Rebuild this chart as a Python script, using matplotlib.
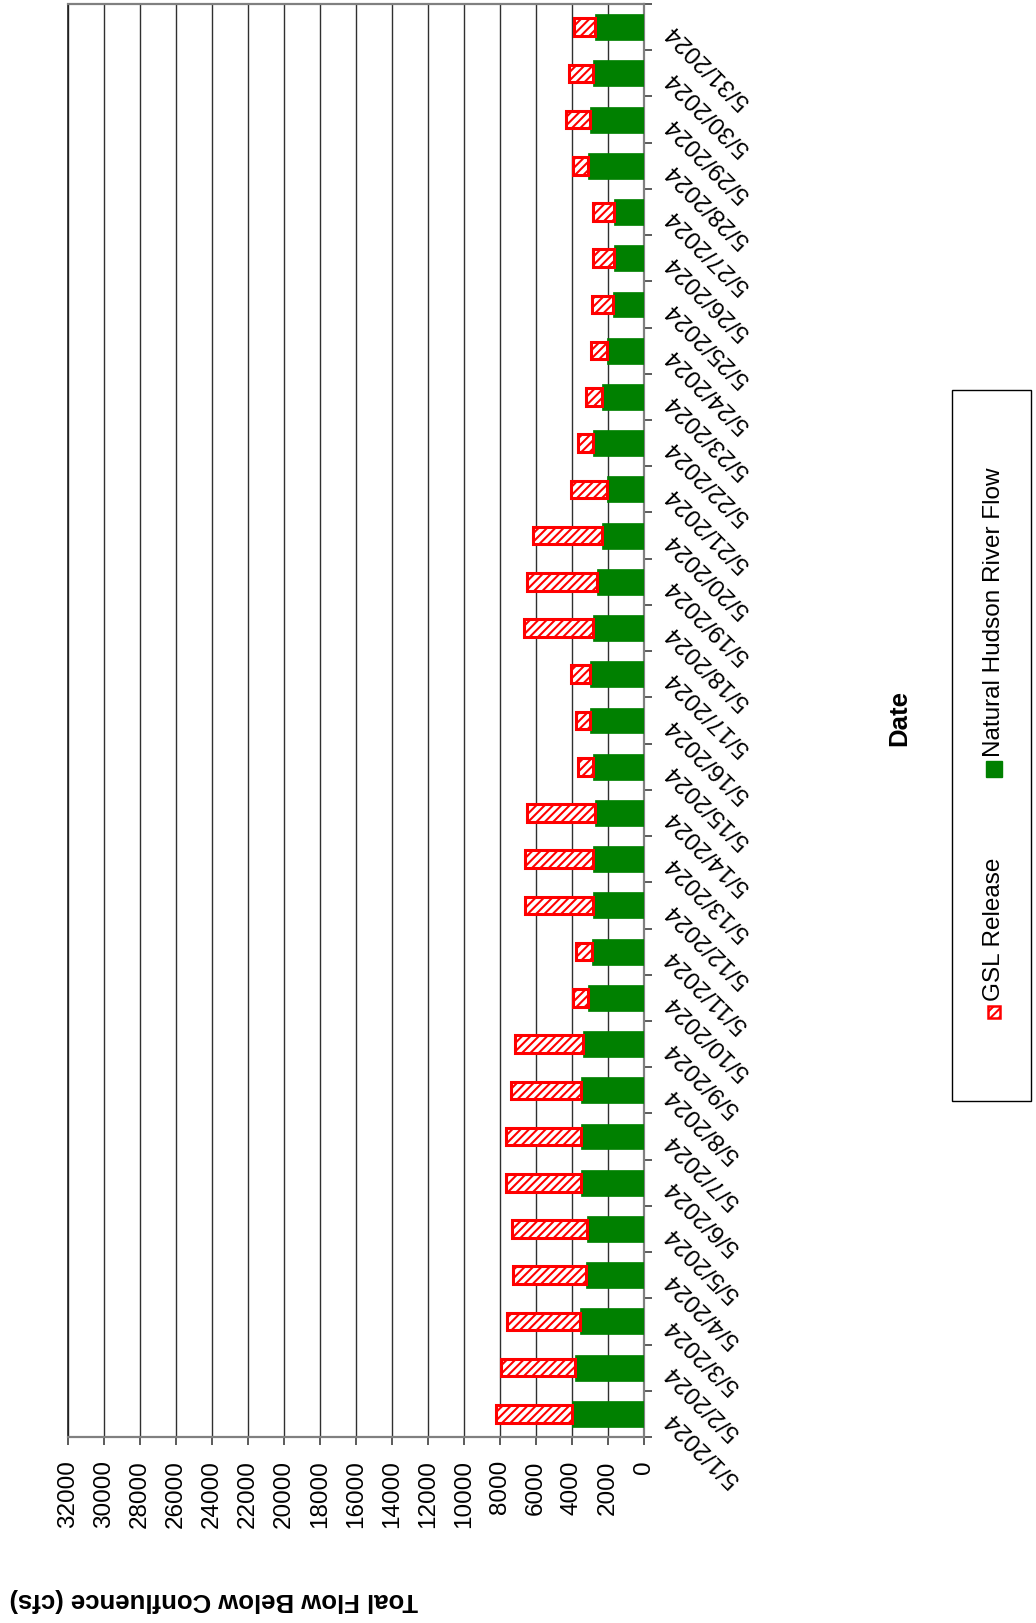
import numpy as np
import matplotlib
matplotlib.use("Agg")
import matplotlib.pyplot as plt
from matplotlib.patches import Rectangle

plt.rcParams['font.family'] = ['Liberation Sans', 'DejaVu Sans']
plt.rcParams['hatch.linewidth'] = 1.5

dates = [f"5/{d}/2024" for d in range(1, 32)]
natural_flow = [4000, 3830, 3560, 3220, 3190, 3520, 3520, 3520, 3370, 3090,
                2910, 2850, 2850, 2720, 2810, 3000, 3000, 2810, 2630, 2350,
                2070, 2850, 2350, 2070, 1740, 1670, 1670, 3130, 3000, 2810,
                2720]
gsl_release = [4250, 4100, 4040, 4070, 4130, 4170, 4170, 3860, 3770, 860,
               890, 3770, 3770, 3770, 850, 800, 1080, 3860, 3860, 3810,
               1960, 820, 860, 860, 1170, 1150, 1150, 820, 1360, 1360,
               1180]
value_ticks = list(range(0, 32001, 2000))
value_label = "Toal Flow Below Confluence (cfs)"
cat_label = "Date"
series_names = ["GSL Release", "Natural Hudson River Flow"]

W, H = 1036, 1624
fig = plt.figure(figsize=(W / 100, H / 100), dpi=100)
ax = fig.add_axes([68 / W, 1 - 1438 / H, (644 - 68) / W, (1438 - 5) / H])

y = np.arange(len(dates))
green = '#008000'
red = '#ff0000'

ax.barh(y, natural_flow, height=0.56, color=green, edgecolor=green,
        linewidth=0.5, zorder=3)
ax.barh(y, gsl_release, left=natural_flow, height=0.38, facecolor='white',
        edgecolor=red, hatch='////', linewidth=2.2, zorder=4)

ax.set_xlim(32000, 0)
ax.set_ylim(-0.5, len(dates) - 0.5)

ax.set_xticks(value_ticks)
ax.set_xticklabels([str(v) for v in value_ticks], rotation=90, fontsize=17.5)
ax.tick_params(axis='x', direction='out', length=6, width=1.2,
               color='#404040', pad=10)
ax.grid(axis='x', color='#303030', linewidth=1.0, zorder=1)
ax.set_axisbelow(True)

ax.yaxis.tick_right()
ax.set_yticks(y)
ax.set_yticklabels(dates, fontsize=17.5)
ax.set_yticks(np.arange(-0.5, len(dates), 1), minor=True)
ax.tick_params(axis='y', which='major', length=0, pad=18)
ax.tick_params(axis='y', which='minor', direction='out', length=6,
               width=1.2, color='#404040', right=True, left=False)
for lab in ax.get_yticklabels():
    lab.set_rotation(135)
    lab.set_ha('right')
    lab.set_va('center')
    lab.set_rotation_mode('anchor')

for side in ['bottom', 'right', 'top']:
    ax.spines[side].set_color('#808080')
    ax.spines[side].set_linewidth(1.6)
ax.spines['left'].set_color('#202020')
ax.spines['left'].set_linewidth(1.2)

# axis titles
fig.text(214 / W, 1 - 1600 / H, value_label, rotation=180, fontsize=18.5,
         fontweight='bold', ha='center', va='center')
fig.text(899 / W, 1 - 718 / H, cat_label, rotation=90, fontsize=18.5,
         fontweight='bold', ha='center', va='center')

# legend (drawn rotated, as in the reference)
fig.add_artist(Rectangle((952 / W, 1 - 1102 / H), (1031 - 952) / W,
                         (1102 - 391) / H, transform=fig.transFigure,
                         facecolor='white', edgecolor='black', linewidth=1.0))
fig.add_artist(Rectangle(((994 - 6) / W, 1 - (1013 + 6) / H), 12 / W, 12 / H,
                         transform=fig.transFigure, facecolor='white',
                         edgecolor=red, hatch='////', linewidth=1.8))
fig.add_artist(Rectangle(((994 - 8) / W, 1 - (770 + 8) / H), 16 / W, 16 / H,
                         transform=fig.transFigure, facecolor=green,
                         edgecolor=green, linewidth=1.0))
fig.text(994 / W, 1 - 1001 / H, series_names[0], rotation=90, fontsize=17.5,
         ha='center', va='bottom')
fig.text(994 / W, 1 - 757 / H, series_names[1], rotation=90, fontsize=17.5,
         ha='center', va='bottom')

fig.savefig('out.png', dpi=100)
